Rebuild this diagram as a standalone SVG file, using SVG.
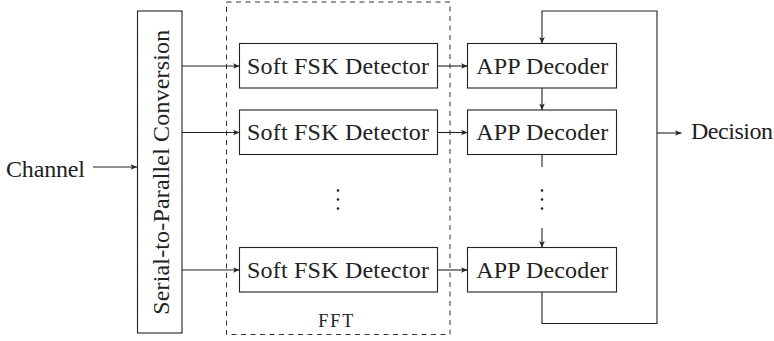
<svg xmlns="http://www.w3.org/2000/svg" width="774" height="341" viewBox="0 0 774 341">
<style>
  .box { fill: #fff; stroke: #222; stroke-width: 1.1; }
  .dash { fill: none; stroke: #333; stroke-width: 1; stroke-dasharray: 5 4.5; }
  .wire { fill: none; stroke: #222; stroke-width: 1.1; }
  text { font-family: "Liberation Serif", "DejaVu Serif", serif; fill: #222; }
  .lbl { font-size: 24px; }
  .small { font-size: 18px; }
  .dot { fill: #222; }
</style>
<defs>
  <marker id="arr" viewBox="-7 -4 8 8" refX="0" refY="0" markerWidth="8" markerHeight="8" markerUnits="userSpaceOnUse" orient="auto">
    <path d="M0,0 L-6.5,-2.8 L-4.8,0 L-6.5,2.8 Z" fill="#222"/>
  </marker>
</defs>

<g id="fft-region">
  <rect class="dash" x="226.5" y="2" width="223.5" height="332.5"/>
  <text class="small" x="318.3" y="327.3" textLength="35">FFT</text>
</g>

<g id="connectors">
  <path class="wire" d="M93,167 H137" marker-end="url(#arr)"/>
  <path class="wire" d="M182,66 H239.5" marker-end="url(#arr)"/>
  <path class="wire" d="M182,132.5 H239.5" marker-end="url(#arr)"/>
  <path class="wire" d="M182,270 H239.5" marker-end="url(#arr)"/>
  <path class="wire" d="M437.5,66 H467.5" marker-end="url(#arr)"/>
  <path class="wire" d="M437.5,132.5 H467.5" marker-end="url(#arr)"/>
  <path class="wire" d="M437.5,270 H467.5" marker-end="url(#arr)"/>
  <path class="wire" d="M542,88 V110" marker-end="url(#arr)"/>
  <path class="wire" d="M542,154.5 V167"/>
  <path class="wire" d="M542,228 V247.5" marker-end="url(#arr)"/>
  <path class="wire" d="M542,292 V323.5 H657 V11 H542 V43.5" marker-end="url(#arr)"/>
  <path class="wire" d="M657,133 H681.5" marker-end="url(#arr)"/>
</g>

<g id="channel">
  <text class="lbl" x="6" y="176.5" textLength="79">Channel</text>
</g>

<g id="sp-conversion">
  <rect class="box" x="137.5" y="11" width="44.5" height="322"/>
  <text class="lbl" transform="translate(168.5,172.3) rotate(-90)" text-anchor="middle" textLength="285">Serial-to-Parallel Conversion</text>
</g>

<g id="fsk1">
  <rect class="box" x="239.5" y="43.5" width="198" height="44.5"/>
  <text class="lbl" x="338" y="73.5" text-anchor="middle" textLength="182">Soft FSK Detector</text>
</g>
<g id="fsk2">
  <rect class="box" x="239.5" y="110" width="198" height="44.5"/>
  <text class="lbl" x="338" y="140" text-anchor="middle" textLength="182">Soft FSK Detector</text>
</g>
<g id="fsk-dots">
  <circle class="dot" cx="338" cy="190.5" r="1.3"/>
  <circle class="dot" cx="338" cy="199.5" r="1.3"/>
  <circle class="dot" cx="338" cy="208.5" r="1.3"/>
</g>
<g id="fsk3">
  <rect class="box" x="239.5" y="247.5" width="198" height="44.5"/>
  <text class="lbl" x="338" y="277.5" text-anchor="middle" textLength="182">Soft FSK Detector</text>
</g>

<g id="app1">
  <rect class="box" x="467.5" y="43.5" width="149" height="44.5"/>
  <text class="lbl" x="542.2" y="73.5" text-anchor="middle" textLength="132">APP Decoder</text>
</g>
<g id="app2">
  <rect class="box" x="467.5" y="110" width="149" height="44.5"/>
  <text class="lbl" x="542.2" y="140" text-anchor="middle" textLength="132">APP Decoder</text>
</g>
<g id="app-dots">
  <circle class="dot" cx="542" cy="190.5" r="1.3"/>
  <circle class="dot" cx="542" cy="199.5" r="1.3"/>
  <circle class="dot" cx="542" cy="208.5" r="1.3"/>
</g>
<g id="app3">
  <rect class="box" x="467.5" y="247.5" width="149" height="44.5"/>
  <text class="lbl" x="542.2" y="277.5" text-anchor="middle" textLength="132">APP Decoder</text>
</g>

<g id="decision">
  <text class="lbl" x="691" y="138.5" textLength="82">Decision</text>
</g>
</svg>
